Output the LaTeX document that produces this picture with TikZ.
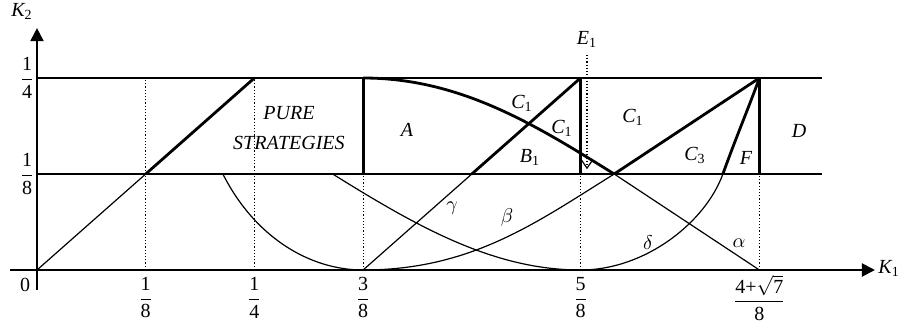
\documentclass[tikz,border=0pt]{standalone}
\usepackage{amsmath}
\usepackage{fontspec}
\setmainfont{Liberation Serif}
\usetikzlibrary{arrows.meta}
\newcommand{\sbs}[1]{\textsubscript{\upshape #1}}
\begin{document}
\begin{tikzpicture}[x=54.35pt,y=48pt,
  thinl/.style={line width=0.6pt},
  thickl/.style={line width=1.4pt},
  axisl/.style={line width=1pt,-{Triangle[length=6.5pt,width=6.5pt]}},
  dotl/.style={line width=0.6pt,densely dotted},
  lab/.style={font=\itshape,inner sep=0pt},
  tick/.style={inner sep=0pt}]
\useasboundingbox (-0.3404,-0.6042) rectangle (7.976,2.8125);
% coordinates
\coordinate (O) at (0,0);
\coordinate (a1) at (1,1);
\coordinate (a2) at (2,2);
\coordinate (L1) at (0,1);
\coordinate (L2) at (0,2);
\coordinate (R1) at (7.22,1);
\coordinate (R2) at (7.22,2);
\coordinate (b1) at (1,0);
\coordinate (b2) at (2,0);
\coordinate (b3) at (3,0);
\coordinate (m3) at (3,1);
\coordinate (t3) at (3,2);
\coordinate (b5) at (5,0);
\coordinate (m5) at (5,1);
\coordinate (t5) at (5,2);
\coordinate (b7) at (6.646,0);
\coordinate (m7) at (6.646,1);
\coordinate (t7) at (6.646,2);
\coordinate (t1) at (1,2);
\coordinate (X) at (5.31,1);
\coordinate (g) at (4,1);
\coordinate (d) at (6.31,1);
\coordinate (u1) at (1.71,1);
\coordinate (u2) at (2.72,1);
\coordinate (xs) at (-0.248,0);
\coordinate (xe) at (7.709,0);
\coordinate (ys) at (0,-0.208);
\coordinate (ye) at (0,2.52);
\coordinate (e1top) at (5.06,2.24);
\coordinate (e1bot) at (5.06,1.05);
% dotted verticals
\draw[dotl] (b1) -- (t1);
\draw[dotl] (b2) -- (a2);
\draw[dotl] (b3) -- (m3);
\draw[dotl] (b5) -- (m5);
\draw[dotl] (b7) -- (m7);
% horizontal lines
\draw[thinl] (L2) -- (a2);
\draw[thickl] (a2) -- (R2);
\draw[thinl] (L1) -- (a1);
\draw[thickl] (a1) -- (R1);
% diagonal from origin
\draw[thinl] (O) -- (a1);
\draw[thickl] (a1) -- (a2);
% verticals
\draw[thickl] (m3) -- (t3);
\draw[thickl] (m5) -- (t5);
\draw[thickl] (m7) -- (t7);
% gamma
\draw[thinl] (b3) -- (g);
\draw[thickl] (g) -- (t5);
% beta
\draw[thinl] (b3) .. controls (4,0) and (4.6,0.5) .. (X);
\draw[thickl] (X) -- (t7);
% A curve and alpha
\draw[thickl] (t3) .. controls (3.9,2) and (4.6,1.5) .. (X);
\draw[thinl] (X) -- (b7);
% U1
\draw[thinl] (u1) .. controls (2.0,0.35) and (2.5,0) .. (b3);
% U2 and delta
\draw[thinl] (u2) .. controls (3.5,0.45) and (4.2,0) .. (b5)
  .. controls (5.6,0) and (6.15,0.5) .. (d);
\draw[thickl] (d) .. controls (6.42,1.35) and (6.55,1.7) .. (t7);
% E1 arrow
\draw[dotl,-{Straight Barb[length=4pt,width=5.5pt,line width=0.6pt]}] (e1top) -- (e1bot);
\node[lab] (E1) at (5.06,2.40) {E\sbs{1}};
% axes
\draw[axisl] (xs) -- (xe);
\draw[axisl] (ys) -- (ye);
\node[lab,anchor=west] (K1) at (7.737,0.02) {K\sbs{1}};
\node[lab] (K2) at (-0.138,2.69) {K\sbs{2}};
% tick labels
\node[tick] (y4) at (-0.092,2) {$\dfrac{\textrm{1}}{\textrm{4}}$};
\node[tick] (y8) at (-0.092,1) {$\dfrac{\textrm{1}}{\textrm{8}}$};
\node[tick] (zero) at (-0.11,-0.156) {0};
\node[tick] (x1) at (1,-0.29) {$\dfrac{\textrm{1}}{\textrm{8}}$};
\node[tick] (x2) at (2,-0.29) {$\dfrac{\textrm{1}}{\textrm{4}}$};
\node[tick] (x3) at (3,-0.29) {$\dfrac{\textrm{3}}{\textrm{8}}$};
\node[tick] (x5) at (5,-0.29) {$\dfrac{\textrm{5}}{\textrm{8}}$};
\node[tick] (x7) at (6.646,-0.29) {$\dfrac{\textrm{4+}\sqrt{\textrm{7}}}{\textrm{8}}$};
% region labels
\node[lab,align=center,font=\itshape\fontsize{10}{15}\selectfont] (PS) at (2.318,1.48) {PURE\\STRATEGIES};
\node[lab] (rA) at (3.404,1.458) {A};
\node[lab] (rC1a) at (4.462,1.74) {C\sbs{1}};
\node[lab] (rC1b) at (4.83,1.479) {C\sbs{1}};
\node[lab] (rB1) at (4.535,1.177) {B\sbs{1}};
\node[lab] (rC1c) at (5.483,1.594) {C\sbs{1}};
\node[lab] (rC3) at (6.053,1.198) {C\sbs{3}};
\node[lab] (rF) at (6.523,1.167) {F};
\node[lab] (rD) at (7.01,1.448) {D};
\node[lab] (lg) at (3.818,0.646) {$\gamma$};
\node[lab] (lb) at (4.324,0.542) {$\beta$};
\node[lab] (ld) at (5.621,0.281) {$\delta$};
\node[lab] (la) at (6.458,0.281) {$\alpha$};
\end{tikzpicture}
\end{document}
